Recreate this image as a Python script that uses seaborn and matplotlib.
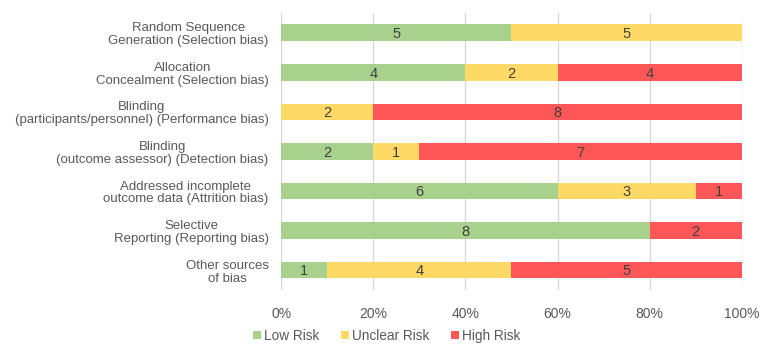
import matplotlib
matplotlib.use("Agg")
import matplotlib.pyplot as plt
import seaborn as sns
import numpy as np
import pandas as pd

categories = [
    "Random Sequence\nGeneration (Selection bias)",
    "Allocation\nConcealment (Selection bias)",
    "Blinding\n(participants/personnel) (Performance bias)",
    "Blinding\n(outcome assessor) (Detection bias)",
    "Addressed incomplete\noutcome data (Attrition bias)",
    "Selective\nReporting (Reporting bias)",
    "Other sources\nof bias",
]
low_risk = [5, 4, 0, 2, 6, 8, 1]
unclear_risk = [5, 2, 2, 1, 3, 0, 4]
high_risk = [0, 4, 8, 7, 1, 2, 5]
series_names = ["Low Risk", "Unclear Risk", "High Risk"]
colors = ["#A9D18E", "#FFD966", "#FF5757"]
x_ticks = [0, 20, 40, 60, 80, 100]

sns.set_theme(style="white")
plt.rcParams["font.family"] = ["Liberation Sans", "DejaVu Sans"]

low = np.array(low_risk, float)
unc = np.array(unclear_risk, float)
high = np.array(high_risk, float)
total = low + unc + high
pl = low / total * 100
pu = unc / total * 100
ph = high / total * 100

df = pd.DataFrame({
    "cat": categories,
    "c1": pl,
    "c2": pl + pu,
    "c3": pl + pu + ph,
})

fig, ax = plt.subplots(figsize=(7.68, 3.51), dpi=100)
fig.subplots_adjust(left=0.366, right=0.966, top=0.963, bottom=0.174)

for col, color in zip(["c3", "c2", "c1"], colors[::-1]):
    sns.barplot(data=df, x=col, y="cat", color=color, width=0.42,
                linewidth=0, saturation=1, ax=ax, zorder=3)

# labels
vals = [low, unc, high]
starts = [np.zeros(len(pl)), pl, pl + pu]
widths = [pl, pu, ph]
for v, s, w in zip(vals, starts, widths):
    for i in range(len(categories)):
        if v[i] > 0:
            ax.text(s[i] + w[i] / 2, i + 0.03, f"{int(v[i])}", ha="center", va="center",
                    fontsize=10.5, color="#404040", zorder=5)

ax.set_xlim(0, 100)
ax.set_ylim(6.5, -0.5)
ax.set_xticks(x_ticks)
ax.set_xticklabels([f"{t}%" for t in x_ticks], fontsize=10, color="#595959")
ax.tick_params(axis="y", labelsize=9.5, labelcolor="#595959", length=0, pad=9)
ax.tick_params(axis="x", length=0, pad=12)
ax.set_xlabel("")
ax.set_ylabel("")
for lbl in ax.get_yticklabels():
    lbl.set_multialignment("center")
    lbl.set_linespacing(1.1)
ax.xaxis.grid(True, color="#D9D9D9", linewidth=1, zorder=0)
ax.yaxis.grid(False)
for sp in ax.spines.values():
    sp.set_visible(False)

from matplotlib.patches import Patch
handles = [Patch(facecolor=c, edgecolor="none") for c in colors]
fig.legend(handles, series_names, loc="center", bbox_to_anchor=(0.503, 0.043),
           ncol=3, frameon=False, fontsize=9.8, handlelength=0.6, handleheight=0.6,
           handletextpad=0.2, columnspacing=1.6, labelcolor="#595959")

fig.savefig("out.png", dpi=100)
